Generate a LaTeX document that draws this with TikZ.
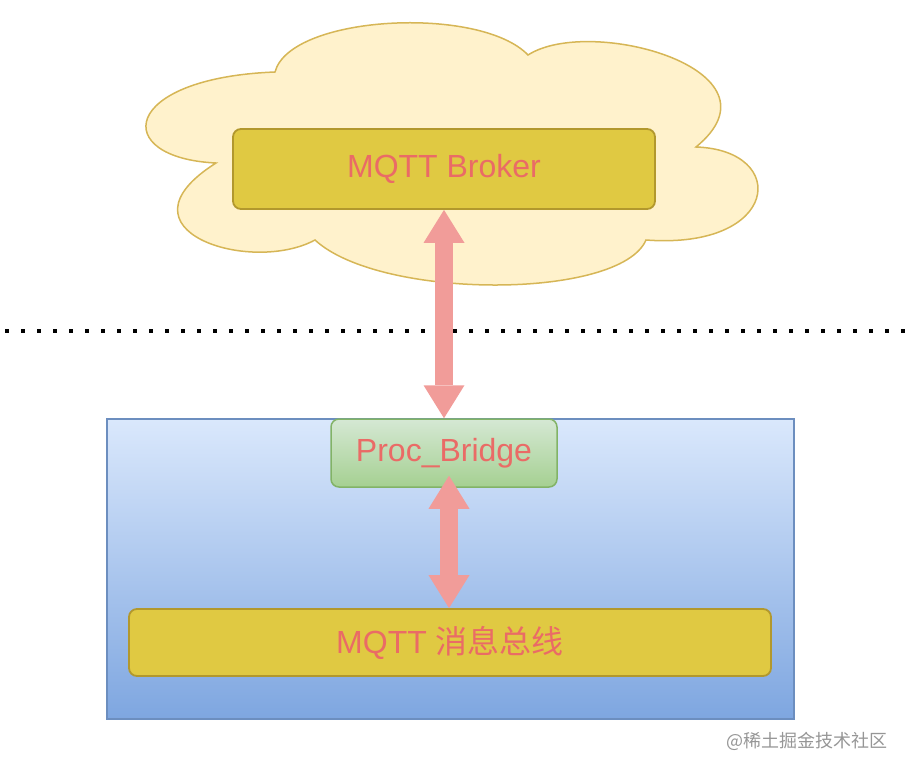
\documentclass[tikz,border=0pt]{standalone}
\usepackage{fontspec}
\setmainfont{Liberation Sans}
\newfontfamily\cjkfont{Noto Sans CJK SC}
\usetikzlibrary{arrows.meta}
\definecolor{cloudfill}{RGB}{255,242,204}
\definecolor{cloudline}{RGB}{214,182,86}
\definecolor{goldfill}{RGB}{224,201,66}
\definecolor{goldline}{RGB}{178,152,45}
\definecolor{bluetop}{RGB}{218,232,252}
\definecolor{bluebot}{RGB}{126,166,224}
\definecolor{blueline}{RGB}{108,142,191}
\definecolor{greentop}{RGB}{213,232,212}
\definecolor{greenbot}{RGB}{165,208,145}
\definecolor{greenline}{RGB}{130,179,102}
\definecolor{labelred}{RGB}{234,107,102}
\definecolor{arrowpink}{RGB}{241,156,153}
\definecolor{wmgray}{RGB}{150,150,150}
\tikzset{
  goldbox/.style={draw=goldline, fill=goldfill, line width=1.8pt, rounded corners=8pt,
    text=labelred, font=\fontsize{32}{38}\selectfont, inner sep=0pt},
  dblarrow/.style={draw=arrowpink, line width=18pt,
    {Triangle[length=33pt,width=41pt,line width=0pt,fill=arrowpink]}-{Triangle[length=33pt,width=41pt,line width=0pt,fill=arrowpink]}},
}
\begin{document}
\begin{tikzpicture}[x=1pt,y=-1pt]
\useasboundingbox (0,0) rectangle (912,772);
% cloud
\draw[fill=cloudfill, draw=cloudline, line width=1.5pt]
  (216,163) .. controls (110,158) and (120,78) .. (275,72)
  .. controls (290,15) and (480,5) .. (528,55)
  .. controls (590,15) and (790,70) .. (696,147)
  .. controls (790,150) and (780,250) .. (646,240)
  .. controls (620,300) and (380,300) .. (315,240)
  .. controls (250,275) and (110,230) .. cycle;
\node[goldbox, minimum width=422pt, minimum height=80pt] (broker) at (444,169) {MQTT Broker};
% dotted separator
\coordinate (sepL) at (5,331);
\coordinate (sepR) at (907,331);
\draw[line width=4pt, dash pattern=on 4pt off 12pt] (sepL) -- (sepR);
% container
\node[draw=blueline, line width=1.5pt, top color=bluetop, bottom color=bluebot,
  minimum width=687pt, minimum height=300pt, inner sep=0pt] (host) at (450.5,569) {};
\node[draw=greenline, line width=1.5pt, top color=greentop, bottom color=greenbot,
  rounded corners=8pt, minimum width=226pt, minimum height=68pt, inner sep=0pt,
  text=labelred, font=\fontsize{32}{38}\selectfont] (bridge) at (444,453) {Proc\_Bridge};
\node[goldbox, minimum width=642pt, minimum height=67pt] (bus) at (450,642.5)
  {MQTT {\cjkfont 消息总线}};
% arrows
\draw[dblarrow] (broker.south) -- (bridge.north);
\draw[dblarrow] ([xshift=5pt,yshift=12pt]bridge.south) -- ([xshift=-1pt]bus.north);
% watermark
\node[text=wmgray, font=\cjkfont\fontsize{18}{20}\selectfont, anchor=east] (wm) at (891,741) {@稀土掘金技术社区};
\end{tikzpicture}
\end{document}
